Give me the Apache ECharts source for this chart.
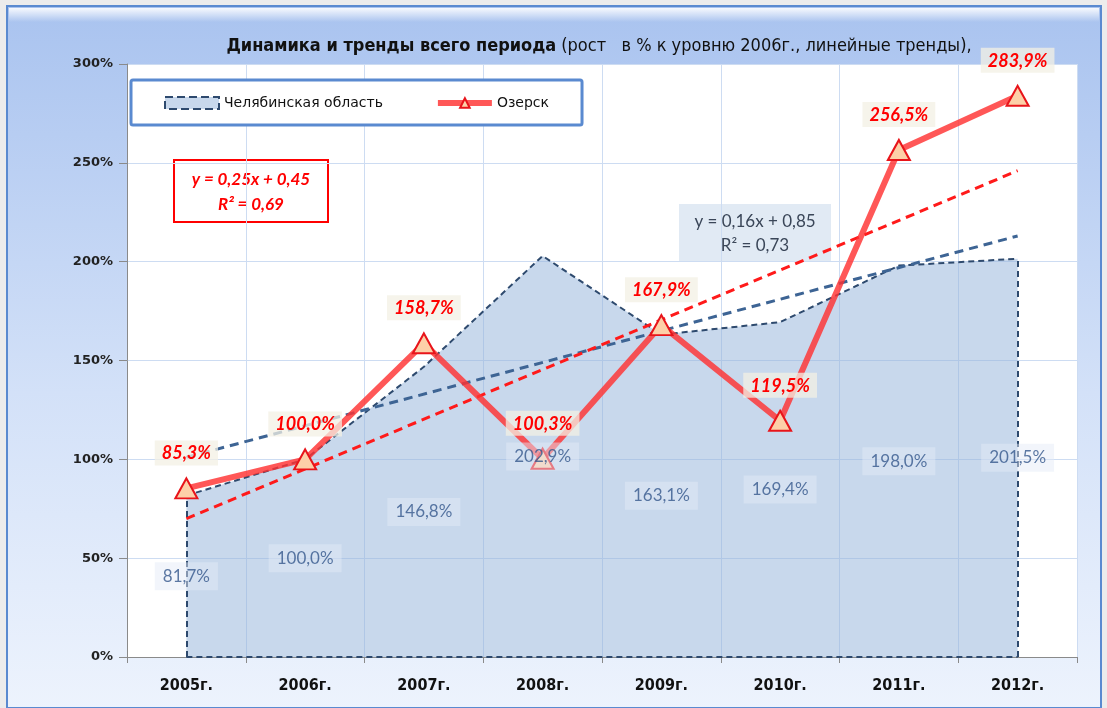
<!DOCTYPE html>
<html>
<head>
<meta charset="utf-8">
<script src="https://cdn.jsdelivr.net/npm/echarts@6/dist/echarts.min.js"></script>
<style>
  html, body { margin: 0; padding: 0; background: #ececec; }
  #chart { width: 1107px; height: 708px; }
</style>
</head>
<body>
<div id="chart"></div>
<script>
// data
const years = ['2005г.', '2006г.', '2007г.', '2008г.', '2009г.', '2010г.', '2011г.', '2012г.']
const chelyabinsk = [81.7, 100.0, 146.8, 202.9, 163.1, 169.4, 198.0, 201.5]
const ozersk = [85.3, 100.0, 158.7, 100.3, 167.9, 119.5, 256.5, 283.9]
// linear trend ends (first and last year)
const chelTrend = [101, 213]
const ozTrend = [70, 246]
const yTicks = { min: 0, max: 300, step: 50 }

const narrow = "'Liberation Sans Narrow', 'DejaVu Sans Condensed', 'Liberation Sans', sans-serif"
const fmt = v => v.toFixed(1).replace('.', ',') + '%'
const last = years.length - 1

const chart = echarts.init(document.getElementById('chart'))
chart.setOption({
  backgroundColor: '#ececec',
  animation: false,
  title: {
    left: 594,
    textAlign: 'center',
    top: 32,
    text: '{b|Динамика и тренды всего периода} {n|(рост   в % к уровню 2006г., линейные тренды),}',
    textStyle: {
      rich: {
        b: { fontFamily: narrow, fontWeight: 'bold', fontSize: 18, color: '#111' },
        n: { fontFamily: narrow, fontWeight: 'normal', fontSize: 18, color: '#111' }
      }
    }
  },
  graphic: [
    {
      type: 'rect', z: -10, silent: true,
      shape: { x: 7, y: 6, width: 1094, height: 702 },
      style: {
        fill: new echarts.graphic.LinearGradient(0, 0, 0, 1, [
          { offset: 0, color: '#a9c3ef' },
          { offset: 0.55, color: '#d3e1f8' },
          { offset: 1, color: '#edf3fd' }
        ]),
        stroke: '#5a8ad0', lineWidth: 2
      }
    },
    {
      type: 'rect', z: -9, silent: true,
      shape: { x: 9, y: 8, width: 1090, height: 14 },
      style: {
        fill: new echarts.graphic.LinearGradient(0, 0, 0, 1, [
          { offset: 0, color: 'rgba(255,255,255,0.9)' },
          { offset: 1, color: 'rgba(255,255,255,0)' }
        ])
      }
    },
    {
      type: 'group', z: 100,
      children: [
        { type: 'rect', shape: { x: 174, y: 160, width: 154, height: 62 },
          style: { fill: '#fff', stroke: '#ff0000', lineWidth: 2 } },
        { type: 'text', x: 251, y: 180,
          style: { text: 'y = 0,25x + 0,45', align: 'center', verticalAlign: 'middle',
            font: 'italic bold 17px Lato', fill: '#ff0000' } },
        { type: 'text', x: 251, y: 205,
          style: { text: 'R² = 0,69', align: 'center', verticalAlign: 'middle',
            font: 'italic bold 17px Lato', fill: '#ff0000' } }
      ]
    },
    {
      type: 'group', z: 100,
      children: [
        { type: 'rect', shape: { x: 679, y: 204, width: 152, height: 57 },
          style: { fill: 'rgba(220,230,242,0.85)' } },
        { type: 'text', x: 755, y: 222,
          style: { text: 'y = 0,16x + 0,85', align: 'center', verticalAlign: 'middle',
            font: '17px Lato', fill: '#3a4658' } },
        { type: 'text', x: 755, y: 246,
          style: { text: 'R² = 0,73', align: 'center', verticalAlign: 'middle',
            font: '17px Lato', fill: '#3a4658' } }
      ]
    }
  ],
  legend: {
    left: 131,
    top: 80,
    padding: [16, 33, 15, 33],
    itemGap: 52,
    itemWidth: 54,
    itemHeight: 12,
    backgroundColor: '#fff',
    borderColor: '#5a8ad0',
    borderWidth: 3,
    borderRadius: 2,
    textStyle: { fontFamily: 'DejaVu Sans', fontSize: 14, color: '#111' },
    data: [
      {
        name: 'Челябинская область',
        icon: 'rect',
        itemStyle: { color: '#c8d8ec', borderColor: '#2e4a6e', borderWidth: 2, borderType: 'dashed' }
      },
      { name: 'Озерск', lineStyle: { width: 6 } }
    ]
  },
  grid: {
    left: 127,
    right: 30,
    top: 64,
    bottom: 51,
    show: true,
    backgroundColor: '#fff',
    borderWidth: 0
  },
  xAxis: {
    type: 'category',
    data: years,
    boundaryGap: true,
    axisLine: { lineStyle: { color: '#8a8a8a', width: 1 } },
    axisTick: { show: true, length: 6, lineStyle: { color: '#8a8a8a' } },
    splitLine: { show: true, lineStyle: { color: '#cddcf2', width: 1 } },
    axisLabel: {
      margin: 21,
      fontFamily: narrow,
      fontWeight: 'bold',
      fontSize: 16,
      color: '#111'
    }
  },
  yAxis: {
    type: 'value',
    min: yTicks.min,
    max: yTicks.max,
    interval: yTicks.step,
    axisLine: { show: true, lineStyle: { color: '#8a8a8a' } },
    axisTick: { show: true, length: 8, lineStyle: { color: '#8a8a8a' } },
    splitLine: { lineStyle: { color: '#cddcf2' } },
    axisLabel: {
      margin: 14,
      fontFamily: 'DejaVu Sans',
      fontWeight: 'bold',
      fontSize: 13,
      color: '#222',
      formatter: v => v + '%'
    }
  },
  series: [
    {
      name: 'Челябинская область',
      type: 'line',
      data: chelyabinsk,
      symbol: 'none',
      z: 1,
      lineStyle: { color: '#2e4a6e', width: 2, type: [6, 4] },
      itemStyle: { color: '#c8d8ec', borderColor: '#2e4a6e' },
      areaStyle: { color: 'rgba(150,180,218,0.52)', opacity: 1 },
      markLine: {
        silent: true,
        symbol: 'none',
        label: { show: false },
        lineStyle: { color: '#2e4a6e', width: 2, type: [6, 4] },
        data: [
          [{ coord: [years[0], 0] }, { coord: [years[0], chelyabinsk[0]] }],
          [{ coord: [years[last], 0] }, { coord: [years[last], chelyabinsk[last]] }],
          [{ coord: [years[0], 0] }, { coord: [years[last], 0] }]
        ]
      }
    },
    {
      name: 'chelTrend',
      type: 'line',
      data: [[years[0], chelTrend[0]], [years[last], chelTrend[1]]],
      symbol: 'none',
      z: 3,
      lineStyle: { color: '#3d6494', width: 3, type: [9, 6] }
    },
    {
      name: 'ozTrend',
      type: 'line',
      data: [[years[0], ozTrend[0]], [years[last], ozTrend[1]]],
      symbol: 'none',
      z: 3,
      lineStyle: { color: '#ff1a1a', width: 3, type: [9, 6] }
    },
    {
      name: 'Озерск',
      type: 'line',
      data: ozersk,
      z: 5,
      symbol: 'triangle',
      symbolSize: [22, 20],
      lineStyle: { color: 'rgba(255,50,50,0.82)', width: 6 },
      itemStyle: { color: '#fdd0a8', borderColor: '#e8141a', borderWidth: 2 },
      label: {
        show: true,
        position: 'top',
        distance: 12,
        formatter: p => fmt(p.value),
        fontFamily: 'Lato',
        fontStyle: 'italic',
        fontWeight: 'bold',
        fontSize: 18,
        color: '#ff0000',
        backgroundColor: 'rgba(243,240,228,0.75)',
        padding: [4, 7, 3, 7]
      }
    },
    {
      // labels of the area placed at mid height, like the original
      name: 'chelLabels',
      type: 'scatter',
      data: chelyabinsk.map(v => v / 2),
      symbolSize: 0,
      z: 10,
      label: {
        show: true,
        position: 'inside',
        formatter: p => fmt(chelyabinsk[p.dataIndex]),
        fontFamily: 'Lato',
        fontSize: 17,
        color: '#34588c',
        backgroundColor: 'rgba(228,235,246,0.6)',
        padding: [6, 8, 5, 8]
      }
    }
  ]
})
</script>
</body>
</html>
